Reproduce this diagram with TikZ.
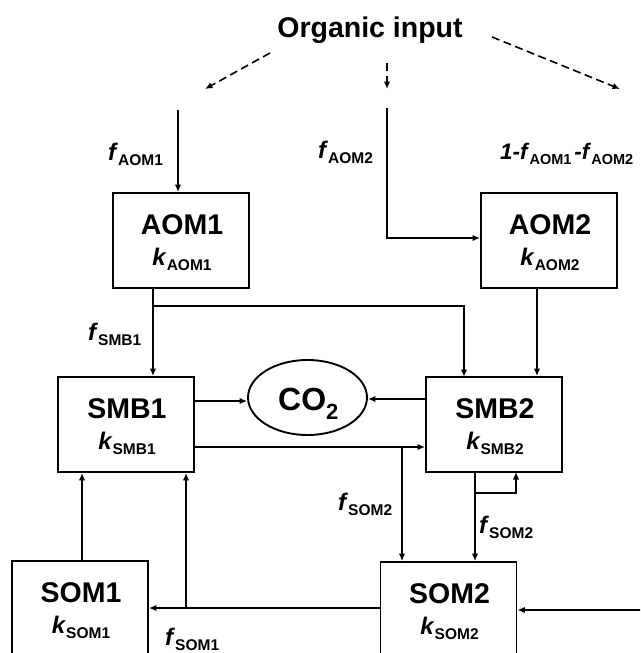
\documentclass[tikz,border=0pt]{standalone}
\usepackage{fontspec}
\setmainfont{Liberation Sans}
\usetikzlibrary{arrows.meta,shapes.geometric,calc}
\newcommand{\vsub}[2]{\textbf{\textit{#1}}\raisebox{-5pt}{\fontsize{15.5}{15}\selectfont\bfseries #2}}
\newcommand{\vsubs}[2]{\textbf{\textit{#1}}\raisebox{-5pt}{\fontsize{14.5}{15}\selectfont\bfseries #2}}
\begin{document}
\begin{tikzpicture}[x=1pt,y=-1pt,
  box/.style={draw, line width=1.9pt, minimum width=136pt, minimum height=95pt, inner sep=0pt},
  ttl/.style={font=\fontsize{28.5}{30}\selectfont\bfseries, anchor=base, inner sep=0pt},
  kl/.style={font=\fontsize{24}{24}\selectfont\bfseries, anchor=base, inner sep=0pt},
  flab/.style={font=\fontsize{24}{24}\selectfont\bfseries, anchor=base west, inner sep=0pt},
  arr/.style={-{Latex[length=7.5pt,width=6.5pt]}, line width=1.6pt},
  dsh/.style={arr, dash pattern=on 8pt off 4.5pt}]
\useasboundingbox (0,0) rectangle (640,653);
\clip (0,0) rectangle (640,653);
\fill[white] (0,0) rectangle (640,653);

% title
\node[ttl] (org) at (370,37) {Organic input};
\coordinate (d1s) at (270,53); \coordinate (d1e) at (205,89);
\coordinate (d2s) at (387,63); \coordinate (d2e) at (387,89);
\coordinate (d3s) at (492,37); \coordinate (d3e) at (620,89);
\draw[dsh] (d1s) -- (d1e);
\draw[dsh] (d2s) -- (d2e);
\draw[dsh] (d3s) -- (d3e);

% boxes
\node[box] (aom1) at (181,240.5) {};
\node[box] (aom2) at (549,240.5) {};
\node[box] (smb1) at (126,424.5) {};
\node[box] (smb2) at (494,424.5) {};
\node[box] (som1) at (80,608.5) {};
\node[box] (som2) at (448.5,609.5) {};
\node[draw, ellipse, line width=1.9pt, minimum width=119pt, minimum height=75pt, inner sep=0pt] (co2) at (307.5,397.5) {};

\foreach \b/\t in {aom1/AOM1, aom2/AOM2, smb1/SMB1, smb2/SMB2, som1/SOM1, som2/SOM2}{
  \node[ttl] (\b t) at ($(\b.north)+(1,42)$) {\t};
  \node[kl] (\b k) at ($(\b.north)+(1,73)$) {\vsub{k}{\t}};
}
\node[font=\fontsize{32}{34}\selectfont\bfseries, anchor=base west, inner sep=0pt] (co2t) at (278,410) {CO\raisebox{-9pt}{\fontsize{22}{22}\selectfont 2}};

% labels
\node[flab] (lfa1) at (108,160) {\vsub{f}{AOM1}};
\node[flab] (lfa2) at (318,158) {\vsub{f}{AOM2}};
\node[flab, font=\fontsize{22.5}{24}\selectfont\bfseries] (lfa3) at (500,159) {\textbf{\textit{1-}}\vsubs{f}{AOM1}\hspace{3pt}\textbf{\textit{-}}\vsubs{f}{AOM2}};
\node[flab] (lfs1) at (88,340) {\vsub{f}{SMB1}};
\node[flab] (lfo2a) at (338,510) {\vsub{f}{SOM2}};
\node[flab] (lfo2b) at (479,533) {\vsub{f}{SOM2}};
\node[flab] (lfo1) at (165,645) {\vsub{f}{SOM1}};

% input arrows
\coordinate (in1) at (178,110);
\coordinate (in2) at (387,108);
\coordinate (j2) at (0,238);
\draw[arr] (in1) -- (in1 |- aom1.north);
\draw[arr] (in2) |- (aom2.west |- j2);

% AOM to SMB
\coordinate (a1b) at (153,288);
\coordinate (a1j) at (153,306);
\coordinate (s2in) at (464,377);
\coordinate (a2b) at (537,288);
\draw[arr] (a1b) -- (a1b |- smb1.north);
\draw[arr] (a1j) -| (s2in);
\draw[arr] (a2b) -- (a2b |- smb2.north);

% to CO2
\coordinate (c1) at (0,401);
\coordinate (c2) at (0,399);
\draw[arr] (smb1.east |- c1) -- (co2.west |- c1);
\draw[arr] (smb2.west |- c2) -- (co2.east |- c2);

% SMB1 -> SMB2, branch to SOM2
\coordinate (h1) at (0,447);
\coordinate (b1) at (402,447);
\draw[arr] (smb1.east |- h1) -- (smb2.west |- h1);
\draw[arr] (b1) -- (b1 |- som2.north);

% SMB2 -> SOM2 and loop
\coordinate (v2) at (475,0);
\coordinate (lp1) at (475,493);
\coordinate (lp2) at (516,472);
\draw[arr] (v2 |- smb2.south) -- (v2 |- som2.north);
\draw[arr] (lp1) -| (lp2);

% SOM2 -> SOM1, branch up to SMB1
\coordinate (h2) at (0,608);
\coordinate (b2) at (186,608);
\coordinate (v1) at (82,0);
\draw[arr] (som2.west |- h2) -- (som1.east |- h2);
\draw[arr] (b2) -- (b2 |- smb1.south);
\draw[arr] (v1 |- som1.north) -- (v1 |- smb1.south);

% right input to SOM2
\coordinate (rin) at (641,610);
\draw[arr] (rin) -- (som2.east |- rin);
\end{tikzpicture}
\end{document}
